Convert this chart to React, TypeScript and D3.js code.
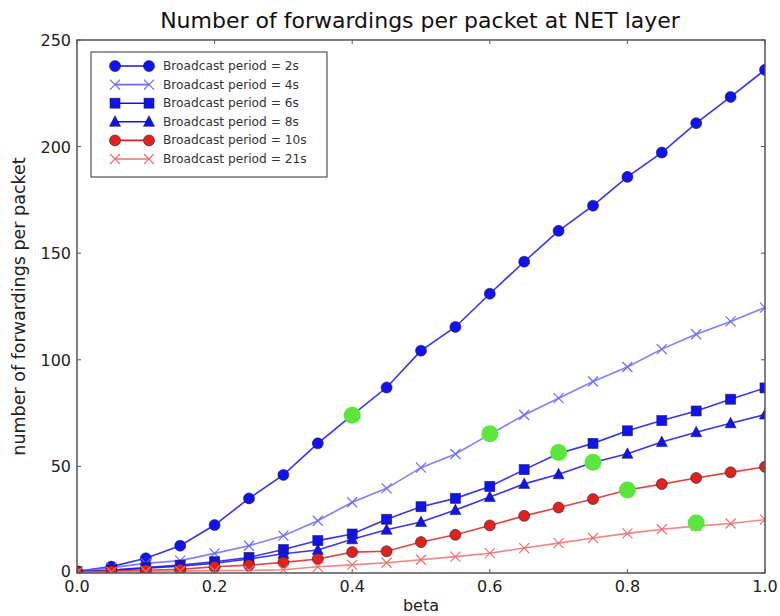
import React from "react";
import * as d3 from "d3";

const betas = d3.range(0, 21).map((i) => i * 0.05);

const p2s = [0.8, 3, 6.9, 12.8, 22.5, 35, 46, 60.8, 74, 87, 104.3, 115.4, 131, 146, 160.5, 172.3, 185.8, 197.2, 211, 223.3, 236];
const p4s = [0.8, 2.5, 4.5, 5.8, 9.2, 12.8, 17.5, 24.5, 33.2, 39.7, 49.4, 55.8, 65, 74.1, 82, 89.8, 96.6, 105, 112, 118, 124.5];
const p6s = [0.6, 1.4, 2.5, 3.7, 5.3, 7.3, 11, 15.2, 18.3, 25.2, 31.1, 35, 40.6, 48.5, 56, 60.8, 66.7, 71.5, 76, 81.5, 86.8];
const p8s = [0.5, 1.2, 2.2, 3.2, 4.6, 6.6, 9, 10.8, 15.8, 20.3, 23.9, 29.5, 35.6, 41.8, 46.3, 51.8, 55.9, 61.4, 66, 70.2, 74.3];
const p10s = [0.4, 0.9, 1.3, 1.7, 2.9, 3.7, 5, 6.6, 9.8, 10.2, 14.5, 17.9, 22.3, 26.8, 30.7, 34.7, 38.9, 41.7, 44.6, 47.2, 49.8];
const p21s = [0.3, 0.5, 0.7, 0.9, 1.1, 1.2, 1.5, 2.9, 3.8, 4.8, 6.2, 7.7, 9.3, 11.7, 14, 16.4, 18.6, 20.5, 22, 23.2, 25];

const labels = ["2s", "4s", "6s", "8s", "10s", "21s"];
const seriesData = [p2s, p4s, p6s, p8s, p10s, p21s];
const markers = ["circle", "x", "square", "triangle", "circle", "x"];
const colors = ["#1212f0", "#6a6aff", "#1212f0", "#1212f0", "#e0221c", "#f07070"];

// highlighted points (beta, value)
const highlightBeta = [0.4, 0.6, 0.7, 0.75, 0.8, 0.9];
const highlightVal = [74, 65.3, 56.5, 52, 38.9, 23.5];

const xTicks = [0, 0.2, 0.4, 0.6, 0.8, 1.0];
const yTicks = [0, 50, 100, 150, 200, 250];

const W = 780, H = 616;
const m = { left: 77, right: 15, top: 40, bottom: 43 };

function Marker({ type, x, y, color }: { type: string; x: number; y: number; color: string }) {
  const edge = "#1a1a3a";
  if (type === "circle")
    return <circle cx={x} cy={y} r={5.5} fill={color} stroke={edge} strokeOpacity={0.7} strokeWidth={0.8} />;
  if (type === "square")
    return <rect x={x - 5} y={y - 5} width={10} height={10} fill={color} stroke={edge} strokeOpacity={0.7} strokeWidth={0.8} />;
  if (type === "triangle")
    return <path d={`M${x},${y - 6}L${x + 5.5},${y + 4.5}L${x - 5.5},${y + 4.5}Z`} fill={color} stroke={edge} strokeOpacity={0.7} strokeWidth={0.8} />;
  return (
    <path d={`M${x - 5},${y - 5}L${x + 5},${y + 5}M${x - 5},${y + 5}L${x + 5},${y - 5}`} stroke={color} strokeWidth={1.2} fill="none" />
  );
}

export default function App() {
  const x = d3.scaleLinear().domain([0, 1]).range([m.left, W - m.right]);
  const y = d3.scaleLinear().domain([0, 250]).range([H - m.bottom, m.top]);
  const line = d3.line<number>().x((_, i) => x(betas[i])).y((d) => y(d));
  const font = "'DejaVu Sans', sans-serif";

  return (
    <svg width={W} height={H} style={{ position: "absolute", left: 0, top: 0, background: "#fff" }}>
      <defs>
        <clipPath id="plot">
          <rect x={m.left} y={m.top} width={W - m.left - m.right} height={H - m.top - m.bottom} />
        </clipPath>
      </defs>
      <text x={420} y={28} textAnchor="middle" fontFamily={font} fontSize={22} fill="#111">
        Number of forwardings per packet at NET layer
      </text>

      <g clipPath="url(#plot)">
        {seriesData.map((s, k) => (
          <path key={"l" + k} d={line(s) || ""} fill="none" stroke={colors[k]} strokeWidth={1.6} strokeOpacity={0.85} />
        ))}
        {seriesData.map((s, k) =>
          s.map((v, i) => <Marker key={`m${k}-${i}`} type={markers[k]} x={x(betas[i])} y={y(v)} color={colors[k]} />)
        )}
        {highlightBeta.map((b, i) => (
          <circle key={"h" + i} cx={x(b)} cy={y(highlightVal[i])} r={8.5} fill="#5be63c" />
        ))}
      </g>

      {/* axes frame */}
      <rect x={m.left} y={m.top} width={W - m.left - m.right} height={H - m.top - m.bottom} fill="none" stroke="#555" strokeWidth={1.5} />
      {xTicks.map((t) => (
        <g key={"x" + t}>
          <line x1={x(t)} x2={x(t)} y1={H - m.bottom} y2={H - m.bottom - 4} stroke="#555" />
          <line x1={x(t)} x2={x(t)} y1={m.top} y2={m.top + 4} stroke="#555" />
          <text x={x(t)} y={H - m.bottom + 19} textAnchor="middle" fontFamily={font} fontSize={16} fill="#222">
            {t.toFixed(1)}
          </text>
        </g>
      ))}
      {yTicks.map((t) => (
        <g key={"y" + t}>
          <line x1={m.left} x2={m.left + 4} y1={y(t)} y2={y(t)} stroke="#555" />
          <line x1={W - m.right} x2={W - m.right - 4} y1={y(t)} y2={y(t)} stroke="#555" />
          <text x={m.left - 6} y={y(t) + (t === 0 ? 4 : 6)} textAnchor="end" fontFamily={font} fontSize={16} fill="#222">
            {t}
          </text>
        </g>
      ))}
      <text x={(m.left + W - m.right) / 2} y={611} textAnchor="middle" fontFamily={font} fontSize={16} fill="#222">
        beta
      </text>
      <text transform={`translate(25, ${(m.top + H - m.bottom) / 2}) rotate(-90)`} textAnchor="middle" fontFamily={font} fontSize={17.5} fill="#222">
        number of forwardings per packet
      </text>

      {/* legend */}
      <rect x={91} y={52} width={236} height={125} fill="#fff" stroke="#333" strokeWidth={1} />
      {labels.map((lb, k) => {
        const ly = 66 + k * 18.6;
        return (
          <g key={"lg" + k}>
            <line x1={115} x2={149} y1={ly} y2={ly} stroke={colors[k]} strokeWidth={1.6} />
            <Marker type={markers[k]} x={115} y={ly} color={colors[k]} />
            <Marker type={markers[k]} x={149} y={ly} color={colors[k]} />
            <text x={163} y={ly + 4} fontFamily={font} fontSize={12.2} fill="#333">
              Broadcast period = {lb}
            </text>
          </g>
        );
      })}
    </svg>
  );
}
